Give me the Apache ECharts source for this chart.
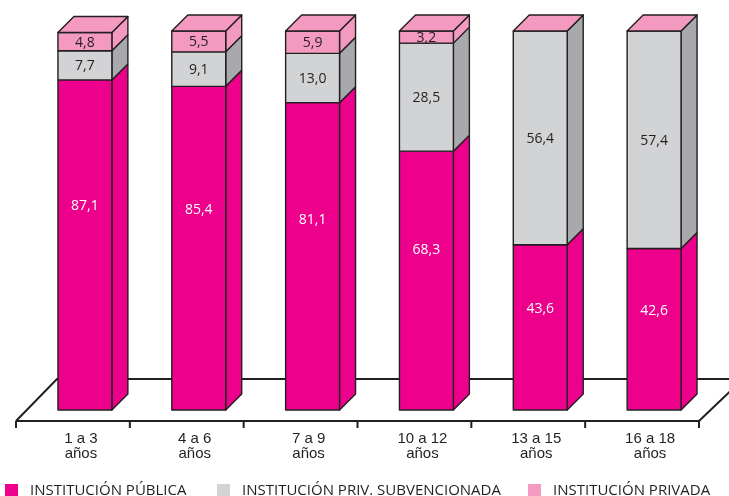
<!DOCTYPE html>
<html>
<head>
<meta charset="utf-8">
<script src="https://cdn.jsdelivr.net/npm/echarts@6/dist/echarts.min.js"></script>
<style>
html,body{margin:0;padding:0;background:#fff;}
#c{width:729px;height:496px;}
</style>
</head>
<body>
<div id="c"></div>
<script>
const categories = ['1 a 3\naños', '4 a 6\naños', '7 a 9\naños', '10 a 12\naños', '13 a 15\naños', '16 a 18\naños'];
const seriesNames = ['INSTITUCIÓN PÚBLICA', 'INSTITUCIÓN PRIV. SUBVENCIONADA', 'INSTITUCIÓN PRIVADA'];
const publica = [87.1, 85.4, 81.1, 68.3, 43.6, 42.6];
const subvencionada = [7.7, 9.1, 13.0, 28.5, 56.4, 57.4];
const privada = [4.8, 5.5, 5.9, 3.2, 0, 0];

const FRONT = ['#EC008C', '#D1D3D4', '#F49AC1'];
const SIDE = ['#EC008C', '#A7A9AC', '#F49AC1'];
const TOPC = '#F49AC1';
const LABELC = ['#FFFFFF', '#231F20', '#231F20'];
const STROKE = '#231F20';
const DEPTH = 16;

const layers = [publica, subvencionada, privada];

function buildData(k) {
  return categories.map((c, i) => {
    let lo = 0;
    for (let j = 0; j < k; j++) lo += layers[j][i];
    return [i, lo, lo + layers[k][i], layers[k][i]];
  });
}

function fmt(v) { return v.toFixed(1).replace('.', ','); }

function makeRender(k) {
  return function (params, api) {
    const i = api.value(0), lo = api.value(1), hi = api.value(2), v = api.value(3);
    const band = api.size([1, 0])[0];
    const bw = band * 54 / 114;
    const b = api.coord([i, lo]);
    const t = api.coord([i, hi]);
    const x0 = b[0] - bw / 2, x1 = b[0] + bw / 2;
    const yb = b[1], yt = t[1];
    const children = [];
    const ls = { stroke: STROKE, lineWidth: 1.4, lineJoin: 'round' };
    if (v > 0) {
      children.push({
        type: 'polygon',
        shape: { points: [[x1, yb], [x1 + DEPTH, yb - DEPTH], [x1 + DEPTH, yt - DEPTH], [x1, yt]] },
        style: Object.assign({ fill: SIDE[k] }, ls)
      });
      children.push({
        type: 'rect',
        shape: { x: x0, y: yt, width: bw, height: yb - yt },
        style: Object.assign({ fill: FRONT[k] }, ls)
      });
      const ly = k === 0 ? api.coord([i, lo + v * 0.62])[1] : (yb + yt) / 2;
      children.push({
        type: 'text',
        style: {
          text: fmt(v), x: b[0], y: ly + 1, fill: LABELC[k],
          font: '14px "Open Sans", sans-serif', align: 'center', verticalAlign: 'middle'
        }
      });
    }
    if (k === layers.length - 1) {
      children.push({
        type: 'polygon',
        shape: { points: [[x0, yt], [x0 + DEPTH, yt - DEPTH], [x1 + DEPTH, yt - DEPTH], [x1, yt]] },
        style: Object.assign({ fill: TOPC }, ls)
      });
    }
    return { type: 'group', children: children };
  };
}

function renderFloor(params, api) {
  const cs = params.coordSys;
  const band = api.size([1, 0])[0];
  const yb = cs.y + cs.height;
  const left = cs.x, right = cs.x + cs.width;
  const fy = yb + 11, by = yb - 31;
  const sh = -12;
  const ls = { stroke: STROKE, lineWidth: 2, fill: null };
  const children = [
    { type: 'polyline', shape: { points: [[left + sh, fy], [left + 29, by], [right + 60, by]] }, style: ls },
    { type: 'polyline', shape: { points: [[right + sh, fy], [right + 32, by]] }, style: ls },
    { type: 'line', shape: { x1: left + sh, y1: fy, x2: right + sh, y2: fy }, style: ls }
  ];
  for (let j = 0; j <= categories.length; j++) {
    const x = left + sh + j * band;
    children.push({ type: 'line', shape: { x1: x, y1: fy, x2: x, y2: fy + 7 }, style: ls });
  }
  return { type: 'group', children: children };
}

const series = [{
  type: 'custom', name: 'floor', data: [[0, 0]], renderItem: renderFloor, z: 1, silent: true
}];
for (let k = 0; k < layers.length; k++) {
  series.push({
    type: 'custom', name: seriesNames[k], data: buildData(k), renderItem: makeRender(k),
    itemStyle: { color: FRONT[k] }, z: 2 + k, encode: { x: 0, y: [1, 2] }
  });
}

const legendPos = [5, 217, 528];
const legends = seriesNames.map((n, k) => ({
  data: [{ name: n, icon: 'rect' }],
  left: legendPos[k], top: 483, padding: 0,
  itemWidth: 13, itemHeight: 13,
  selectedMode: false,
  textStyle: { fontFamily: 'Open Sans', fontSize: 15, color: '#231F20', padding: [0, 0, 0, 7] }
}));

const chart = echarts.init(document.getElementById('c'), null, { renderer: 'canvas' });
chart.setOption({
  animation: false,
  backgroundColor: '#fff',
  grid: { left: 28, right: 18, top: 31, bottom: 86 },
  xAxis: {
    type: 'category', data: categories, boundaryGap: true,
    axisLine: { show: false }, axisTick: { show: false },
    axisLabel: {
      margin: 21, fontFamily: 'Liberation Sans', fontSize: 15, lineHeight: 15,
      color: '#231F20', padding: [0, 8, 0, 0]
    }
  },
  yAxis: { type: 'value', min: 0, max: 100, show: false, splitLine: { show: false } },
  legend: legends,
  series: series
});
</script>
</body>
</html>
